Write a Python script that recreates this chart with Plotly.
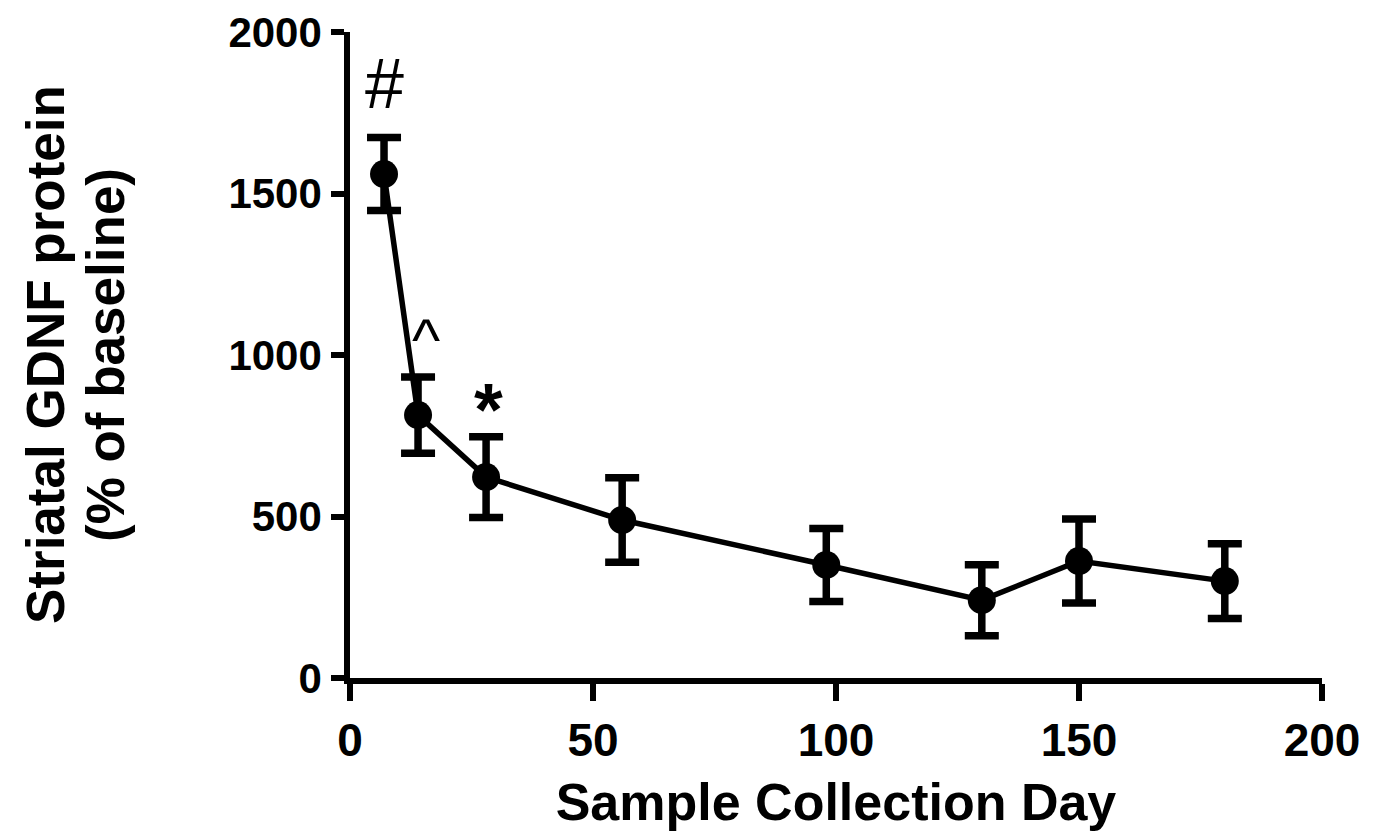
import plotly.graph_objects as go

days = [7, 14, 28, 56, 98, 130, 150, 180]
gdnf = [1560, 814, 622, 489, 350, 241, 362, 300]
sem = [113, 118, 125, 131, 113, 110, 130, 116]

marks = ["#", "^", "*"]
mark_x = [7, 15.6, 28.4]
mark_y = [1840, 1045, 830]
mark_size = [70, 60, 74]
mark_weight = ["normal", "normal", "bold"]

x_ticks = [0, 50, 100, 150, 200]
y_ticks = [0, 500, 1000, 1500, 2000]

y_title_lines = ["Striatal GDNF protein", "(% of baseline)"]
y_title_shift = [-305, -245]

FONT = "Liberation Sans, Arial, sans-serif"

fig = go.Figure()
fig.add_trace(go.Scatter(
    x=days, y=gdnf, mode="lines+markers",
    line=dict(color="black", width=5.5),
    marker=dict(color="black", size=28),
    error_y=dict(type="data", array=sem, visible=True, color="black",
                 thickness=7.5, width=17),
    showlegend=False,
))

for t, xx, yy, sz, wt in zip(marks, mark_x, mark_y, mark_size, mark_weight):
    fig.add_annotation(x=xx, y=yy, text=t, showarrow=False,
                       font=dict(family=FONT, size=sz, color="black", weight=wt),
                       xanchor="center", yanchor="middle")

for t, sh in zip(y_title_lines, y_title_shift):
    fig.add_annotation(x=0, y=0.5, xref="paper", yref="paper", text=t,
                       textangle=-90, showarrow=False, xshift=sh,
                       xanchor="center", yanchor="middle",
                       font=dict(family=FONT, size=53, color="black", weight="bold"))

# page body has an 8px default margin; figure is sized to sit exactly in the window
fig.update_layout(
    width=1366, height=823,
    margin=dict(l=342, r=52, t=24, b=153),
    paper_bgcolor="white", plot_bgcolor="white",
    font=dict(family=FONT, color="black"),
)
fig.update_xaxes(
    range=[0, 200], tickvals=x_ticks, ticktext=[str(v) for v in x_ticks],
    showgrid=False, zeroline=False, showline=True, linecolor="black", linewidth=5.5,
    ticks="outside", ticklen=17, tickwidth=5.5, tickcolor="black",
    tickfont=dict(family=FONT, size=46, weight="bold"),
    automargin=False,
    title=dict(text="Sample Collection Day",
               font=dict(family=FONT, size=52, weight="bold"), standoff=32),
)
fig.update_yaxes(
    range=[0, 2000], tickvals=y_ticks, ticktext=[str(v) for v in y_ticks],
    showgrid=False, zeroline=False, showline=True, linecolor="black", linewidth=5.5,
    ticks="outside", ticklen=13, tickwidth=5.5, tickcolor="black",
    tickfont=dict(family=FONT, size=42, weight="bold"), ticklabelstandoff=1,
    automargin=False,
)

fig.write_html("out.html")
